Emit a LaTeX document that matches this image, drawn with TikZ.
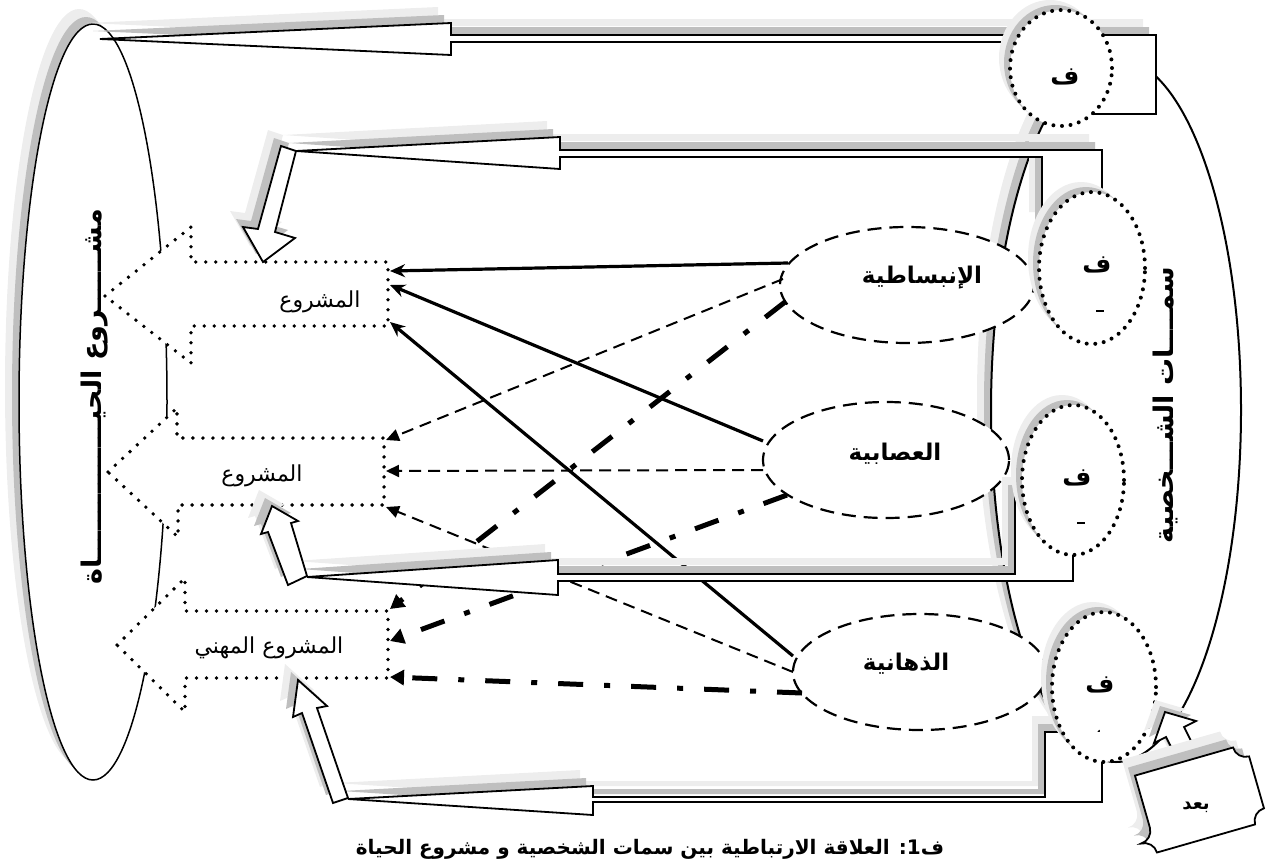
\documentclass[tikz,border=0pt]{standalone}
\usepackage{fontspec}
\usetikzlibrary{arrows.meta,shapes.geometric}
\TeXXeTstate=1
\newfontfamily\arabicfont[Script=Arabic]{DejaVu Sans}
\definecolor{shd}{HTML}{BFBFBF}
\definecolor{shl}{HTML}{EDEDED}
\tikzset{
  hol/.style={draw=black, line width=1.8pt, fill=white, line join=miter},
  dotbox/.style={draw=black, fill=white, line width=3.8pt, line cap=round, dash pattern=on 0pt off 10pt},
  dotcirc/.style={ellipse, draw=black, fill=white, line width=4pt, line cap=round, dash pattern=on 0pt off 8.6pt, inner sep=0pt},
  trait/.style={ellipse, draw=black, fill=white, line width=2.2pt, dash pattern=on 14pt off 8pt, inner sep=0pt},
  rsolid/.style={line width=3.2pt, -{Stealth[length=15pt,width=13pt]}},
  rdash/.style={line width=2pt, dash pattern=on 12pt off 7pt, -{Triangle[length=13pt,width=12pt]}},
  rdd/.style={line width=5pt, dash pattern=on 25pt off 21pt on 6pt off 21pt, -{Triangle[length=14pt,width=15pt]}},
  lbl/.style={font=\arabicfont\fontsize{22}{26}\selectfont, inner sep=0pt},
  blbl/.style={font=\arabicfont\bfseries\fontsize{23}{27}\selectfont, inner sep=0pt},
  flbl/.style={font=\arabicfont\bfseries\fontsize{25}{29}\selectfont, inner sep=0pt},
  vlbl/.style={font=\arabicfont\bfseries\fontsize{27}{30}\selectfont, inner sep=0pt, rotate=90},
  clbl/.style={font=\arabicfont\bfseries\fontsize{20}{24}\selectfont, inner sep=0pt},
}
\def\pT{(100,39) -- (451,23) -- (451,35) -- (1156,35) -- (1156,114) -- (1090,114) -- (1040,80) -- (1040,42) -- (451,42) -- (451,55) -- cycle}
\def\pDtwo{(281,146) -- (296,151) -- (275,232) -- (295,238) -- (263,262) -- (243,227) -- (258,229) -- cycle}
\def\pWtwo{(296,151) -- (560,137) -- (560,150) -- (1102,150) -- (1102,200) -- (1060,228) -- (1042,228) -- (1042,157) -- (560,157) -- (560,169) -- cycle}
\def\pUthree{(272,506) -- (298,521) -- (291,523) -- (307,576) -- (288,585) -- (268,532) -- (261,534) -- cycle}
\def\pWthree{(307,577) -- (558,560) -- (558,574) -- (1015,574) -- (1015,493) -- (1040,493) -- (1073,505) -- (1073,581) -- (558,581) -- (558,595) -- cycle}
\def\pUfour{(298,680) -- (327,706) -- (317,708) -- (348,798) -- (333,803) -- (302,713) -- (293,717) -- cycle}
\def\pWfour{(348,799) -- (593,786) -- (593,797) -- (1045,797) -- (1045,732) -- (1090,732) -- (1102,745) -- (1102,802) -- (593,802) -- (593,815) -- cycle}
\def\pB{(1165,712) -- (1196,721) -- (1184,727) -- (1202,763) -- (1184,772) -- (1166,737) -- (1154,743) -- cycle}
\def\pPlaque{(-51,40) -- (51,40) arc[start angle=180,end angle=270,radius=13] -- (64,-27) arc[start angle=90,end angle=180,radius=13] -- (-51,-40) arc[start angle=0,end angle=90,radius=13] -- (-64,-27) arc[start angle=270,end angle=360,radius=13] -- cycle}
\begin{document}
\begin{tikzpicture}[x=1pt,y=-1pt]
\useasboundingbox (0,0) rectangle (1268,865);
\clip (0,0) rectangle (1268,865);
% left ellipse (life project)
\fill[shl] (79,387) ellipse [x radius=74, y radius=378];
\fill[shd] (86,395) ellipse [x radius=74, y radius=378];
\draw[line width=1.5pt, fill=white] (93,402) ellipse [x radius=74, y radius=378];
% right ellipse (personality traits)
\fill[shl] (1102,396) ellipse [x radius=125, y radius=352];
\fill[shd] (1109,403) ellipse [x radius=125, y radius=352];
\draw[line width=2pt, fill=white] (1116,410) ellipse [x radius=125, y radius=352];
% dotted project arrows
\draw[dotbox] (105,296) -- (191,227) -- (191,262) -- (388,262) -- (388,326) -- (191,326) -- (191,363) -- cycle;
\draw[dotbox] (108,472) -- (177,408) -- (177,438) -- (384,438) -- (384,505) -- (178,505) -- (178,537) -- cycle;
\draw[dotbox] (117,645) -- (185,578) -- (185,611) -- (388,611) -- (388,678) -- (185,678) -- (185,712) -- cycle;
% trait ellipses
\node[trait, minimum width=254pt, minimum height=116pt] (E1) at (907,285) {};
\node[trait, minimum width=246pt, minimum height=116pt] (E2) at (886,460) {};
\node[trait, minimum width=254pt, minimum height=116pt] (E3) at (920,672) {};
% line end points
\coordinate (s1a) at (788,263); \coordinate (s1b) at (390,271);
\coordinate (s2a) at (763,441); \coordinate (s2b) at (390,285);
\coordinate (s3a) at (793,656); \coordinate (s3b) at (390,322);
\coordinate (d1a) at (783,279); \coordinate (d1b) at (386,440);
\coordinate (d2a) at (763,470); \coordinate (d2b) at (386,471);
\coordinate (d3a) at (793,672); \coordinate (d3b) at (386,507);
\coordinate (k1a) at (785,302); \coordinate (k1b) at (390,609);
\coordinate (k2a) at (787,495); \coordinate (k2b) at (390,641);
\coordinate (k3a) at (802,693); \coordinate (k3b) at (390,677);
\draw[rsolid] (s1a) -- (s1b);
\draw[rsolid] (s2a) -- (s2b);
\draw[rsolid] (s3a) -- (s3b);
\draw[rdash] (d1a) -- (d1b);
\draw[rdash] (d2a) -- (d2b);
\draw[rdash] (d3a) -- (d3b);
\draw[rdd] (k1a) -- (k1b);
\draw[rdd] (k2a) -- (k2b);
\draw[rdd] (k3a) -- (k3b);
% shadows of hollow connectors
\begin{scope}[shift={(-13,-16)}]
  \fill[shl] \pT; \fill[shl] \pDtwo; \fill[shl] \pWtwo; \fill[shl] \pUthree;
  \fill[shl] \pWthree; \fill[shl] \pUfour; \fill[shl] \pWfour;
\end{scope}
\begin{scope}[shift={(-7,-8)}]
  \fill[shd] \pT; \fill[shd] \pDtwo; \fill[shd] \pWtwo; \fill[shd] \pUthree;
  \fill[shd] \pWthree; \fill[shd] \pUfour; \fill[shd] \pWfour;
\end{scope}
\draw[hol] \pT; \draw[hol] \pWtwo; \draw[hol] \pDtwo;
\draw[hol] \pWthree; \draw[hol] \pUthree;
\draw[hol] \pWfour; \draw[hol] \pUfour;
% dotted circles
\foreach \cx/\cy/\rx/\ry in {1061/68/51/58, 1092/268/53/76, 1073/480/51/75, 1104/687/52/75} {
  \fill[shl] (\cx-11,\cy-10) ellipse [x radius=\rx, y radius=\ry];
  \fill[shd] (\cx-6,\cy-5) ellipse [x radius=\rx, y radius=\ry];
}
\node[dotcirc, minimum width=102pt, minimum height=116pt] (C1) at (1061,68) {};
\node[dotcirc, minimum width=106pt, minimum height=152pt] (C2) at (1092,268) {};
\node[dotcirc, minimum width=102pt, minimum height=150pt] (C3) at (1073,480) {};
\node[dotcirc, minimum width=104pt, minimum height=150pt] (C4) at (1104,687) {};
% "after" box and its arrow
\fill[shl, shift={(-10,-12)}] \pB;
\fill[shd, shift={(-5,-6)}] \pB;
\draw[hol] \pB;
\begin{scope}[shift={(-13,-16)}]
  \begin{scope}[shift={(1195,800)}, rotate=16, y=1pt]
    \fill[shl] \pPlaque;
  \end{scope}
\end{scope}
\begin{scope}[shift={(-7,-8)}]
  \begin{scope}[shift={(1195,800)}, rotate=16, y=1pt]
    \fill[shd] \pPlaque;
  \end{scope}
\end{scope}
\begin{scope}[shift={(1195,800)}, rotate=16, y=1pt]
  \draw[hol] \pPlaque;
\end{scope}
% texts
\node[blbl] (t1) at (922,278) {\beginR الإنبساطية\endR};
\node[blbl] (t2) at (895,454) {\beginR العصابية\endR};
\node[blbl] (t3) at (906,664) {\beginR الذهانية\endR};
\node[lbl] (a1) at (320,302) {\beginR المشروع\endR};
\node[lbl] (a2) at (262,476) {\beginR المشروع\endR};
\node[lbl] (a3) at (269,648) {\beginR المشروع المهني\endR};
\node[flbl] (f1) at (1065,77) {\beginR ف\endR};
\node[flbl] (f2) at (1097,265) {\beginR ف\endR};
\node[flbl] (f3) at (1077,478) {\beginR ف\endR};
\node[flbl] (f4) at (1100,685) {\beginR ف\endR};
\draw[line width=1.2pt] (1096,311) -- (1104,311);
\draw[line width=1.2pt] (1077,523) -- (1085,523);
\begin{scope}
  \clip (1085,719) rectangle (1112,731);
  \node[font=\bfseries\fontsize{20}{24}\selectfont, inner sep=0pt] (n4) at (1097,737) {4};
\end{scope}
\node[font=\arabicfont\bfseries\fontsize{18}{22}\selectfont, inner sep=0pt] (bd) at (1196,807) {\beginR بعد\endR};
\node[vlbl] (lv) at (95,397) {\beginR مشــــــروع الحيـــــــــــــــاة\endR};
\node[vlbl] (rv) at (1165,405) {\beginR سمــــات الشـــخصية\endR};
\node[clbl] (cap) at (650,849) {\beginR ف1: العلاقة الارتباطية بين سمات الشخصية و مشروع الحياة\endR};
\end{tikzpicture}
\end{document}
